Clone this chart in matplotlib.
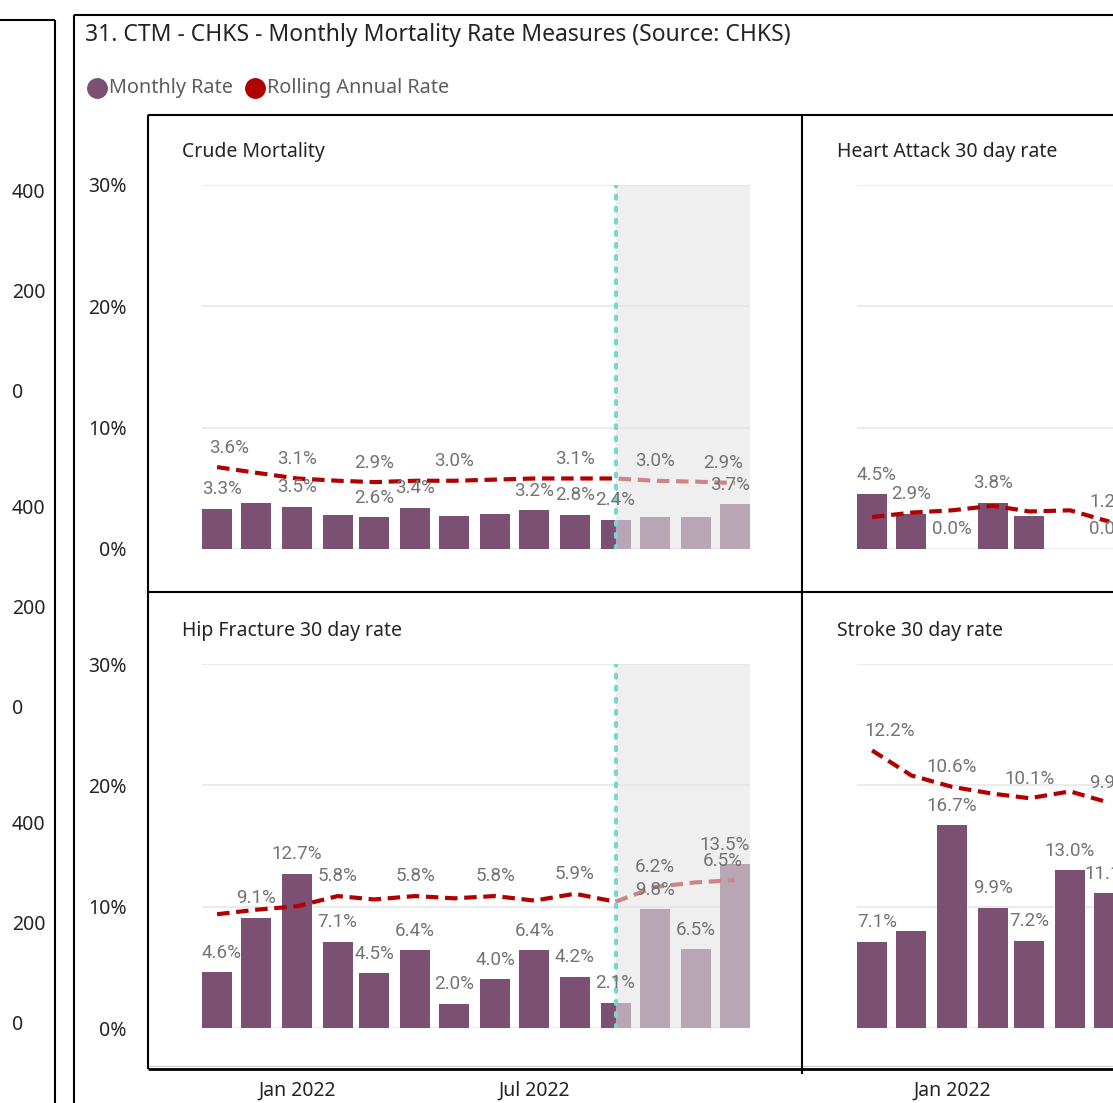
import numpy as np
import pandas as pd
import matplotlib
matplotlib.use("Agg")
import matplotlib.pyplot as plt
import matplotlib.dates as mdates
from matplotlib.lines import Line2D

# data
months = pd.date_range("2021-11-01", "2022-12-01", freq="MS")
forecast_start = pd.Timestamp("2022-09-01")
date_ticks = [pd.Timestamp("2022-01-01"), pd.Timestamp("2022-07-01")]

crude_monthly = [3.3, 3.8, 3.5, 2.8, 2.6, 3.4, 2.7, 2.9, 3.2, 2.8, 2.4, 2.6, 2.6, 3.7]
crude_rolling = [3.6, 3.35, 3.1, 3.0, 2.94, 3.0, 3.0, 3.05, 3.1, 3.1, 3.1, 3.0, 2.96, 2.9]
crude_monthly_shown = [0, 2, 4, 5, 8, 9, 10, 13]
crude_rolling_shown = [0, 2, 4, 6, 9, 11, 13]

heart_monthly = [4.5, 2.9, 0.0, 3.8, 2.7, 0.0, 0.0]
heart_rolling = [1.4, 1.6, 1.7, 1.9, 1.65, 1.7, 1.2]
heart_monthly_shown = [0, 1, 2, 3, 6]
heart_rolling_shown = [6]

hip_monthly = [4.6, 9.1, 12.7, 7.1, 4.5, 6.4, 2.0, 4.0, 6.4, 4.2, 2.1, 9.8, 6.5, 13.5]
hip_rolling = [5.0, 5.2, 5.35, 5.8, 5.65, 5.8, 5.7, 5.8, 5.6, 5.9, 5.55, 6.2, 6.4, 6.5]
hip_monthly_shown = list(range(14))
hip_rolling_shown = [3, 5, 7, 9, 11, 13]

stroke_monthly = [7.1, 8.0, 16.7, 9.9, 7.2, 13.0, 11.1]
stroke_rolling = [12.2, 11.1, 10.6, 10.3, 10.1, 10.4, 9.9]
stroke_monthly_shown = [0, 2, 3, 4, 5, 6]
stroke_rolling_shown = [0, 2, 4, 6]

yticks = [0, 10, 20, 30]
strip_ticks = ["400", "200", "0"]

BAR = "#7c5073"
LINE = "#b00000"
LABEL = "#737373"
DARK = "#252423"
GRID = "#e8e8e8"

plt.rcParams["font.family"] = ["Noto Sans", "DejaVu Sans"]

W, H = 1113, 1103
fig = plt.figure(figsize=(W / 100, H / 100), dpi=100)


def box(x0, y0, x1, y1):
    return [x0 / W, 1 - y1 / H, (x1 - x0) / W, (y1 - y0) / H]


def seg(x0, y0, x1, y1, lw=1.5, color="black"):
    fig.add_artist(Line2D([x0 / W, x1 / W], [1 - y0 / H, 1 - y1 / H],
                          transform=fig.transFigure, color=color, lw=lw,
                          solid_capstyle="butt"))


# frames
seg(0, 20, 55, 20)
seg(55, 20, 55, H)
seg(74, 15, W, 15)
seg(74, 15, 74, H)
seg(148, 115, W, 115)
seg(148, 592, W, 592)
seg(148, 1066, W, 1066, lw=1, color="#d0d0d0")
seg(148, 1069, W, 1069, lw=2)
seg(148, 115, 148, 1069)
seg(802, 115, 802, 1074)

# left cut-off visual axis
for k in range(3):
    for i, lab in enumerate(strip_ticks):
        fig.text(12 / W, 1 - (193 + k * 316 + i * 100) / H, lab, fontsize=14,
                 color=DARK, va="center", ha="left")

fig.text(85 / W, 1 - 35 / H, "31. CTM - CHKS - Monthly Mortality Rate Measures (Source: CHKS)",
         fontsize=16.5, color=DARK, va="center", ha="left")

# legend
fig.add_artist(Line2D([97 / W], [1 - 88 / H], marker="o", ms=14, color=BAR,
                      transform=fig.transFigure, lw=0))
fig.text(109 / W, 1 - 88 / H, "Monthly Rate", fontsize=14.3, color="#605e5c", va="center")
fig.add_artist(Line2D([255 / W], [1 - 88 / H], marker="o", ms=14, color=LINE,
                      transform=fig.transFigure, lw=0))
fig.text(267 / W, 1 - 88 / H, "Rolling Annual Rate", fontsize=14.3, color="#605e5c", va="center")

xs = mdates.date2num(months)
x_lo = xs[0] - 11.5
x_hi = xs[-1] + 11.5
fc = mdates.date2num(forecast_start)

panels = [
    ("Crude Mortality", crude_monthly, crude_rolling, crude_monthly_shown, crude_rolling_shown, 0, 0),
    ("Heart Attack 30 day rate", heart_monthly, heart_rolling, heart_monthly_shown, heart_rolling_shown, 1, 0),
    ("Hip Fracture 30 day rate", hip_monthly, hip_rolling, hip_monthly_shown, hip_rolling_shown, 0, 1),
    ("Stroke 30 day rate", stroke_monthly, stroke_rolling, stroke_monthly_shown, stroke_rolling_shown, 1, 1),
]

labels = []
for title, monthly, rolling, m_shown, r_shown, col, row in panels:
    x0 = 202 + col * 655
    y0 = 185 + row * 479
    fig.text((x0 - 20) / W, 1 - (y0 - 33) / H, title, fontsize=14, color=DARK, va="center")
    ax = fig.add_axes(box(x0, y0, x0 + 548, y0 + 364))
    n = len(monthly)
    ax.bar(xs[:n], monthly, width=23, color=BAR, zorder=2)
    ax.set_xlim(x_lo, x_hi)
    ax.set_ylim(0, 30)
    ax.set_yticks(yticks)
    ax.yaxis.grid(True, color=GRID, lw=1.2, zorder=0)
    ax.set_axisbelow(True)
    for s in ax.spines.values():
        s.set_visible(False)
    ax.tick_params(length=0)
    if col == 0:
        ax.set_yticklabels([f"{t}%" for t in yticks], fontsize=14, color=DARK)
        ax.tick_params(axis="y", pad=54)
    else:
        ax.set_yticklabels([])
    if row == 1:
        ax.set_xticks(mdates.date2num(date_ticks))
        ax.xaxis.set_major_formatter(mdates.DateFormatter("%b %Y"))
        ax.tick_params(axis="x", pad=38, labelsize=14, labelcolor=DARK)
    else:
        ax.set_xticks([])

    ax2 = ax.twinx()
    ax2.set_ylim(0, 16)
    ax2.set_yticks([])
    for s in ax2.spines.values():
        s.set_visible(False)
    ax2.plot(xs[:n], rolling, color=LINE, lw=3.0, linestyle=(0, (3.0, 1.6)), zorder=2)
    ax2.axvspan(fc, x_hi, color=(228 / 255, 228 / 255, 228 / 255), alpha=0.59, lw=0, zorder=3)
    ax2.axvline(fc, color="#78d6cf", lw=3.0, linestyle=(0, (0.7, 2.2)),
                dash_capstyle="round", zorder=4)
    ax2.set_xlim(x_lo, x_hi)

    for i in m_shown:
        t = ax2.annotate(f"{monthly[i]:.1f}%", (xs[i], monthly[i]), xycoords=ax.transData,
                         xytext=(0, 10.5), textcoords="offset points", ha="center",
                         va="baseline", fontsize=13.5, color=LABEL, family="Roboto",
                         zorder=6, annotation_clip=False)
        labels.append((t, ax, 0))
    for i in r_shown:
        t = ax2.annotate(f"{rolling[i]:.1f}%", (xs[i], rolling[i]), xycoords="data",
                         xytext=(0, 10.5), textcoords="offset points", ha="center",
                         va="baseline", fontsize=13.5, color=LABEL, family="Roboto",
                         zorder=6, annotation_clip=False)
        labels.append((t, ax, 7))

# keep labels inside plot area like the report does
fig.canvas.draw()
r = fig.canvas.get_renderer()
for t, ax, pad in labels:
    bb = t.get_window_extent(r)
    ab = ax.get_window_extent(r)
    dx = 0
    if bb.x0 < ab.x0 + pad:
        dx = ab.x0 + pad - bb.x0
    elif bb.x1 > ab.x1 - pad:
        dx = ab.x1 - pad - bb.x1
    if dx:
        t.xyann = (dx * 72 / fig.dpi, 10.5)

fig.savefig("out.png", dpi=100)
